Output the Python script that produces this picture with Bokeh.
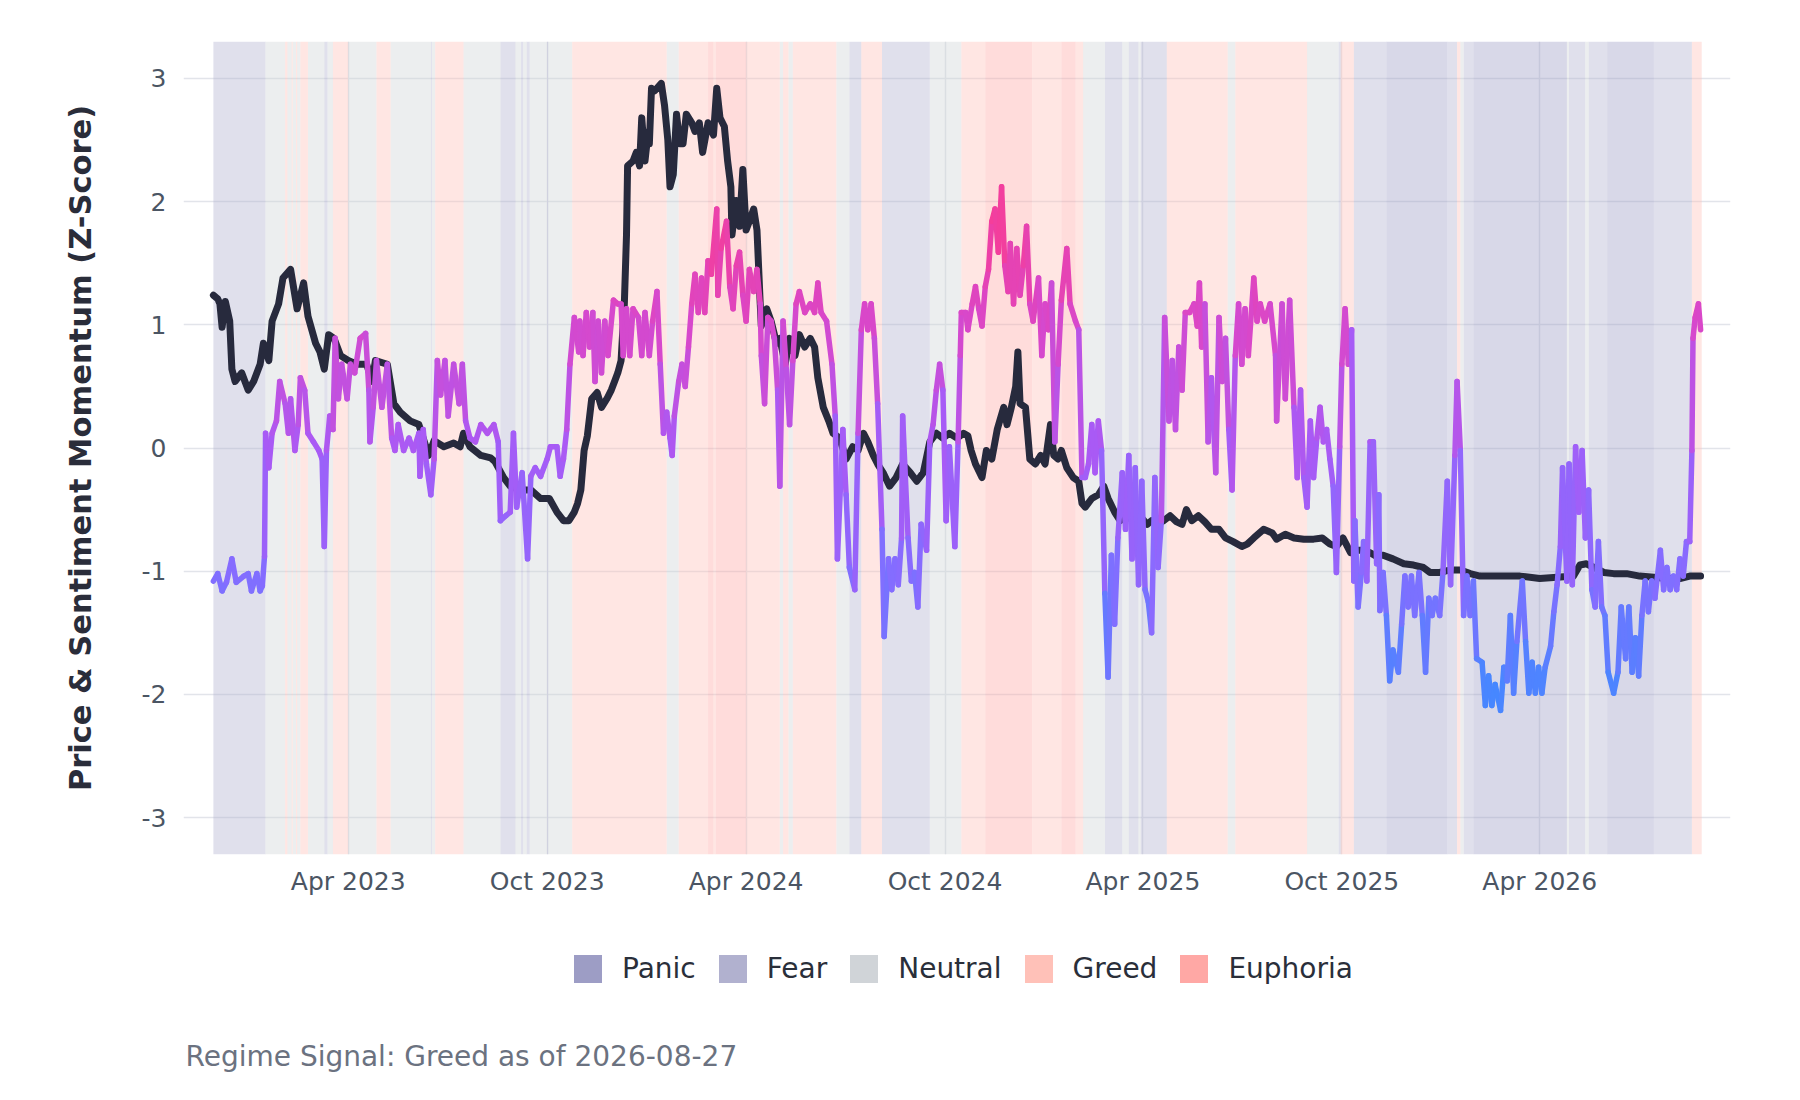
import numpy as np
import pandas as pd

from bokeh.plotting import figure
from bokeh.layouts import column
from bokeh.models import (ColumnDataSource, Range1d, FixedTicker, MonthsTicker, Label,
                          DatetimeTickFormatter, PrintfTickFormatter, Legend, LegendItem)
from bokeh.transform import linear_cmap
from bokeh.embed import file_html
from bokeh.resources import INLINE

START = pd.Timestamp("2022-11-28")   # first day of the series
LAST_DAY = 1368                      # 2026-08-27

# price momentum z-score: day offset from START, value
price_day = [0, 4, 6, 8, 11, 15, 17, 20, 26, 32, 37, 43, 46, 51, 54, 60, 64, 71, 77, 83,
             87, 94, 98, 102, 106, 111, 117, 124, 132, 141, 146, 149, 160, 166, 172, 181, 189, 198, 203, 212,
             221, 227, 230, 236, 246, 255, 259, 267, 273, 282, 292, 301, 309, 316, 322, 327, 332, 335, 338, 341,
             344, 348, 353, 357, 362, 366, 369, 372, 375, 378, 380, 381, 386, 389, 392, 394, 397, 400, 401, 403,
             406, 412, 415, 418, 420, 423, 426, 429, 432, 435, 440, 443, 447, 450, 455, 460, 463, 466, 470, 473,
             476, 477, 481, 484, 487, 490, 493, 497, 500, 503, 504, 509, 513, 518, 521, 526, 530, 535, 539, 544,
             549, 553, 556, 561, 566, 570, 576, 582, 588, 593, 598, 602, 607, 611, 616, 622, 628, 634, 641, 647,
             653, 659, 665, 671, 677, 684, 690, 694, 697, 701, 707, 711, 716, 721, 727, 730, 734, 738, 740, 742,
             747, 751, 756, 761, 765, 770, 773, 777, 780, 785, 791, 796, 799, 802, 808, 814, 819, 823, 829, 834,
             840, 846, 852, 859, 863, 868, 874, 880, 886, 891, 895, 900, 906, 912, 918, 925, 931, 938, 946, 951,
             957, 966, 974, 978, 986, 994, 1003, 1012, 1020, 1027, 1033, 1039, 1046, 1052, 1058, 1064, 1070, 1076, 1085, 1095,
             1104, 1113, 1119, 1128, 1138, 1147, 1156, 1165, 1184, 1202, 1220, 1236, 1251, 1257, 1263, 1270, 1279, 1288, 1300, 1312,
             1325, 1337, 1349, 1358, 1368]
price_z = [1.24, 1.21, 1.17, 0.98, 1.19, 1.03, 0.64, 0.54, 0.61, 0.47, 0.54, 0.68, 0.85, 0.71, 1.03, 1.17, 1.38, 1.45, 1.13, 1.34,
           1.07, 0.85, 0.78, 0.64, 0.92, 0.89, 0.75, 0.71, 0.68, 0.68, 0.54, 0.71, 0.68, 0.36, 0.29, 0.22, 0.19, -0.06, 0.06, 0.01,
           0.04, 0.01, 0.12, 0.01, -0.06, -0.08, -0.11, -0.24, -0.31, -0.34, -0.34, -0.41, -0.41, -0.52, -0.59, -0.59, -0.52, -0.45, -0.34, -0.02,
           0.10, 0.40, 0.45, 0.33, 0.40, 0.47, 0.54, 0.61, 0.71, 1.17, 1.73, 2.29, 2.33, 2.40, 2.29, 2.68, 2.33, 2.57, 2.47, 2.92,
           2.90, 2.96, 2.78, 2.50, 2.12, 2.22, 2.71, 2.47, 2.47, 2.71, 2.64, 2.57, 2.64, 2.40, 2.64, 2.54, 2.92, 2.68, 2.61, 2.33,
           2.12, 1.73, 2.01, 1.80, 2.26, 1.77, 1.84, 1.94, 1.77, 1.17, 0.99, 1.13, 1.03, 0.85, 0.89, 0.68, 0.89, 0.75, 0.92, 0.82,
           0.89, 0.82, 0.57, 0.33, 0.22, 0.12, 0.08, -0.09, 0.01, -0.02, 0.12, 0.05, -0.06, -0.13, -0.20, -0.31, -0.24, -0.13, -0.20, -0.27,
           -0.20, 0.05, 0.12, 0.08, 0.12, 0.08, 0.12, 0.10, -0.02, -0.13, -0.24, -0.02, -0.09, 0.15, 0.33, 0.19, 0.33, 0.50, 0.78, 0.36,
           0.33, -0.09, -0.13, -0.06, -0.13, 0.19, -0.06, -0.09, -0.02, -0.16, -0.24, -0.27, -0.45, -0.48, -0.41, -0.38, -0.31, -0.41, -0.52, -0.59,
           -0.55, -0.59, -0.55, -0.62, -0.59, -0.62, -0.59, -0.55, -0.60, -0.62, -0.50, -0.59, -0.55, -0.60, -0.66, -0.66, -0.73, -0.76, -0.80, -0.78,
           -0.73, -0.66, -0.69, -0.74, -0.70, -0.73, -0.74, -0.74, -0.73, -0.78, -0.80, -0.73, -0.85, -0.83, -0.83, -0.85, -0.88, -0.87, -0.90, -0.94,
           -0.95, -0.97, -1.01, -1.01, -0.99, -0.99, -1.02, -1.04, -1.04, -1.04, -1.06, -1.05, -1.04, -0.95, -0.94, -0.97, -1.01, -1.02, -1.02, -1.04,
           -1.05, -1.06, -1.06, -1.04, -1.04]

# sentiment momentum z-score: day offset from START, value
sent_day = [0, 4, 8, 12, 17, 21, 28, 32, 35, 40, 43, 45, 47, 48, 51, 54, 58, 61, 66, 69,
            71, 75, 78, 80, 84, 87, 92, 97, 100, 102, 104, 107, 110, 112, 115, 118, 123, 126, 130, 135,
            140, 143, 144, 147, 150, 155, 160, 164, 167, 170, 175, 180, 184, 189, 190, 193, 196, 200, 203, 206,
            209, 213, 216, 221, 226, 229, 232, 236, 241, 246, 252, 258, 262, 264, 269, 273, 276, 279, 284, 289,
            292, 296, 301, 307, 310, 316, 319, 322, 325, 328, 332, 336, 337, 340, 343, 346, 349, 351, 354, 357,
            360, 363, 368, 372, 375, 377, 380, 383, 386, 391, 394, 397, 401, 404, 408, 411, 414, 417, 420, 422,
            424, 428, 431, 434, 437, 440, 443, 446, 449, 452, 455, 458, 463, 464, 467, 472, 475, 478, 481, 484,
            487, 490, 493, 497, 500, 503, 504, 507, 510, 513, 516, 519, 521, 524, 527, 530, 533, 536, 539, 544,
            549, 553, 556, 559, 564, 569, 572, 574, 579, 582, 585, 590, 593, 596, 599, 602, 605, 608, 611, 615,
            617, 621, 624, 627, 630, 633, 634, 639, 642, 645, 648, 651, 656, 659, 662, 665, 668, 671, 674, 677,
            682, 685, 687, 688, 692, 694, 698, 701, 704, 707, 710, 713, 716, 719, 722, 725, 728, 731, 733, 736,
            739, 742, 745, 748, 751, 754, 759, 762, 765, 768, 771, 774, 777, 780, 785, 788, 793, 796, 799, 802,
            805, 808, 811, 814, 817, 820, 823, 826, 829, 832, 836, 839, 842, 845, 848, 851, 854, 857, 860, 863,
            866, 869, 872, 875, 879, 882, 885, 888, 891, 894, 898, 902, 905, 907, 909, 912, 915, 918, 922, 925,
            928, 931, 934, 937, 940, 943, 946, 949, 952, 957, 960, 963, 967, 972, 977, 978, 983, 986, 990, 994,
            997, 1000, 1003, 1006, 1009, 1012, 1015, 1018, 1021, 1024, 1027, 1030, 1033, 1036, 1038, 1041, 1044, 1047, 1049, 1050,
            1053, 1056, 1058, 1061, 1064, 1067, 1070, 1072, 1073, 1076, 1079, 1082, 1085, 1090, 1093, 1096, 1099, 1102, 1105, 1109,
            1112, 1115, 1118, 1121, 1124, 1128, 1131, 1135, 1138, 1142, 1144, 1147, 1150, 1153, 1156, 1159, 1162, 1167, 1170, 1173,
            1176, 1179, 1184, 1187, 1190, 1193, 1196, 1199, 1204, 1207, 1210, 1213, 1216, 1219, 1222, 1225, 1230, 1233, 1236, 1239,
            1241, 1245, 1247, 1250, 1253, 1256, 1259, 1262, 1265, 1268, 1271, 1274, 1277, 1280, 1283, 1288, 1292, 1295, 1299, 1302,
            1305, 1308, 1311, 1314, 1317, 1320, 1323, 1326, 1331, 1334, 1337, 1340, 1343, 1346, 1349, 1352, 1355, 1358, 1360, 1361,
            1363, 1366, 1368]
sent_z = [-1.08, -1.02, -1.16, -1.09, -0.90, -1.09, -1.04, -1.02, -1.16, -1.02, -1.16, -1.12, -0.88, 0.12, -0.16, 0.12, 0.22, 0.54, 0.36, 0.12,
          0.40, -0.02, 0.19, 0.57, 0.47, 0.12, 0.05, -0.02, -0.09, -0.80, -0.02, 0.26, 0.15, 0.89, 0.40, 0.68, 0.40, 0.68, 0.61, 0.89,
          0.93, 0.47, 0.05, 0.33, 0.71, 0.33, 0.68, 0.08, -0.02, 0.19, -0.02, 0.08, -0.02, 0.12, -0.23, 0.15, -0.13, -0.38, -0.09, 0.71,
          0.43, 0.71, 0.26, 0.68, 0.36, 0.68, 0.22, 0.08, 0.05, 0.19, 0.12, 0.19, 0.05, -0.59, -0.55, -0.52, 0.12, -0.48, -0.20, -0.90,
          -0.23, -0.16, -0.23, -0.09, 0.01, 0.01, -0.23, -0.09, 0.15, 0.68, 1.06, 0.78, 1.03, 0.75, 1.10, 0.82, 1.10, 0.54, 1.03, 0.61,
          1.03, 0.75, 1.20, 1.17, 1.17, 0.75, 1.13, 0.75, 1.13, 1.06, 0.75, 1.10, 0.75, 1.03, 1.27, 0.68, 0.12, 0.29, 0.08, -0.06,
          0.26, 0.54, 0.68, 0.50, 0.82, 1.17, 1.41, 1.10, 1.38, 1.10, 1.52, 1.41, 1.94, 1.24, 1.62, 1.84, 1.31, 1.13, 1.48, 1.59,
          1.24, 1.03, 1.45, 1.27, 1.45, 1.17, 0.75, 0.36, 1.06, 1.03, 0.89, 0.47, -0.31, 1.03, 0.64, 0.19, 0.71, 1.17, 1.27, 1.10,
          1.17, 1.10, 1.34, 1.10, 1.03, 0.68, 0.26, -0.90, 0.15, -0.38, -0.97, -1.15, 0.12, 0.96, 1.17, 0.96, 1.17, 0.89, 0.36, -0.66,
          -1.53, -0.90, -1.15, -0.90, -1.11, -0.73, 0.26, -0.73, -1.08, -1.01, -1.29, -0.62, -0.83, 0.05, 0.19, 0.47, 0.68, 0.47, -0.59, 0.01,
          -0.80, 0.05, 0.75, 1.10, 1.10, 0.96, 1.17, 1.31, 1.13, 0.99, 1.31, 1.45, 1.84, 1.94, 1.59, 2.12, 1.48, 1.27, 1.66, 1.17,
          1.62, 1.24, 1.48, 1.80, 1.17, 1.03, 1.38, 0.75, 1.17, 0.96, 1.34, 0.05, 0.68, 1.20, 1.62, 1.17, 1.03, 0.96, -0.24, -0.24,
          -0.13, 0.19, -0.20, 0.22, -0.02, -1.18, -1.86, -0.87, -1.43, -0.73, -0.20, -0.66, -0.06, -0.90, -0.16, -1.11, -0.27, -1.15, -1.25, -1.50,
          -0.24, -0.97, -0.59, 1.06, 0.22, 0.71, 0.15, 0.82, 0.47, 1.10, 1.10, 1.17, 0.99, 1.34, 0.82, 1.17, 0.05, 0.57, -0.20, 1.06,
          0.54, 0.89, 0.15, -0.34, 0.75, 1.17, 0.68, 1.13, 0.75, 1.38, 1.03, 1.17, 1.03, 1.17, 0.75, 0.22, 1.17, 0.40, 1.20, 0.33,
          -0.24, 0.47, -0.24, -0.48, 0.22, -0.24, 0.08, 0.33, 0.05, 0.15, -0.09, -0.31, -1.01, 0.01, 0.68, 1.13, 0.68, 0.96, -1.08, -0.59,
          -1.29, -1.01, -0.76, -1.08, 0.05, 0.05, -0.94, -0.38, -1.32, -1.01, -1.36, -1.89, -1.64, -1.82, -1.43, -1.04, -1.29, -1.04, -1.36, -1.01,
          -1.36, -1.82, -1.22, -1.36, -1.22, -1.36, -1.01, -0.27, -1.11, -0.06, 0.54, -0.02, -1.36, -1.04, -1.36, -1.08, -1.71, -1.74, -2.09, -1.85,
          -2.09, -1.92, -2.13, -1.78, -1.89, -1.36, -1.99, -1.57, -1.08, -1.57, -1.99, -1.74, -1.99, -1.78, -1.99, -1.78, -1.61, -1.33, -1.11, -0.80,
          -0.16, -1.08, -0.13, -1.11, 0.01, -0.52, -0.02, -0.73, -0.34, -1.15, -1.29, -0.76, -1.29, -1.36, -1.82, -1.99, -1.82, -1.29, -1.71, -1.29,
          -1.82, -1.54, -1.85, -1.36, -1.08, -1.33, -1.08, -1.22, -0.83, -1.15, -0.97, -1.15, -1.04, -1.15, -0.90, -1.04, -0.76, -0.76, -0.02, 0.89,
          1.06, 1.17, 0.96]

# regime bands: first day, day after last, regime
regime_start = [0, 48, 66, 68, 72, 73, 76, 77, 80, 87, 102, 105, 110, 124, 150, 163, 200, 201, 204, 230,
                264, 278, 283, 285, 288, 291, 307, 308, 330, 417, 428, 455, 460, 462, 490, 521, 524, 529, 533, 573,
                585, 596, 615, 659, 688, 710, 753, 780, 793, 800, 820, 836, 842, 851, 853, 877, 933, 940, 1006, 1035,
                1037, 1049, 1079, 1135, 1144, 1147, 1150, 1159, 1245, 1247, 1262, 1265, 1282, 1325, 1360]
regime_end = [48, 66, 68, 72, 73, 76, 77, 80, 87, 102, 105, 110, 124, 150, 163, 200, 201, 204, 230, 264,
              278, 283, 285, 288, 291, 307, 308, 330, 417, 428, 455, 460, 462, 490, 521, 524, 529, 533, 573, 585,
              596, 615, 659, 688, 710, 753, 780, 793, 800, 820, 836, 842, 851, 853, 877, 933, 940, 1006, 1035, 1037,
              1049, 1079, 1135, 1144, 1147, 1150, 1159, 1245, 1247, 1262, 1265, 1282, 1325, 1360, 1369]
regime_name = ["Fear", "Neutral", "Greed", "Neutral", "Greed", "Neutral", "Greed", "Neutral", "Greed", "Neutral",
               "Fear", "Neutral", "Greed", "Neutral", "Greed", "Neutral", "Fear", "Neutral", "Greed", "Neutral",
               "Fear", "Neutral", "Fear", "Neutral", "Fear", "Neutral", "Fear", "Neutral", "Greed", "Neutral",
               "Greed", "Euphoria", "Greed", "Euphoria", "Greed", "Neutral", "Greed", "Neutral", "Greed", "Neutral",
               "Fear", "Greed", "Fear", "Neutral", "Greed", "Euphoria", "Greed", "Euphoria", "Greed", "Neutral",
               "Fear", "Neutral", "Fear", "Neutral", "Fear", "Greed", "Neutral", "Greed", "Neutral", "Fear",
               "Greed", "Fear", "Panic", "Fear", "Greed", "Neutral", "Fear", "Panic", "Neutral", "Fear",
               "Neutral", "Fear", "Panic", "Fear", "Greed"]

REGIMES = ["Panic", "Fear", "Neutral", "Greed", "Euphoria"]
REGIME_COLORS = ["#9d9dc5", "#b1b1cf", "#d0d4d8", "#ffc1b8", "#ffa8a5"]

FONT = "DejaVu Sans"


def to_date(days):
    return START + pd.to_timedelta(np.asarray(days, dtype=float), unit="D")


# blue -> purple -> pink palette for the sentiment line
anchors = [(-2.2, (0x3b, 0x8c, 0xff)), (-1.0, (0x86, 0x6c, 0xff)), (0.0, (0xa9, 0x5a, 0xf5)),
           (1.0, (0xd7, 0x48, 0xcc)), (2.2, (0xff, 0x3a, 0x88))]
stops = np.linspace(-2.2, 2.2, 256)
av = [a[0] for a in anchors]
palette = []
for s in stops:
    rgb = [int(round(np.interp(s, av, [a[1][k] for a in anchors]))) for k in range(3)]
    palette.append("#%02x%02x%02x" % tuple(rgb))

p = figure(width=1784, height=914, x_axis_type="datetime",
           x_range=Range1d(to_date([-27.5])[0].to_pydatetime(), to_date([LAST_DAY + 27.5])[0].to_pydatetime()),
           y_range=Range1d(-3.3, 3.3),
           output_backend="svg", toolbar_location=None,
           min_border_left=183, min_border_right=54, min_border_top=41, min_border_bottom=60)
p.outline_line_color = None
p.background_fill_color = "white"

# regime bands
for name, color in zip(REGIMES, REGIME_COLORS):
    idx = [i for i, r in enumerate(regime_name) if r == name]
    src = ColumnDataSource(dict(left=to_date([regime_start[i] for i in idx]),
                                right=to_date([regime_end[i] for i in idx])))
    p.quad(left="left", right="right", bottom=-3.3, top=3.3, source=src,
           fill_color=color, fill_alpha=0.4, line_color=None)

# price momentum
p.line(to_date(price_day), price_z, line_color="#272a3d", line_width=7,
       line_join="round", line_cap="round")

# sentiment momentum, coloured by value
sd = to_date(sent_day)
sz = np.array(sent_z)
seg = ColumnDataSource(dict(x0=sd[:-1], x1=sd[1:], y0=sz[:-1], y1=sz[1:],
                            v=(sz[:-1] + sz[1:]) / 2))
p.segment(x0="x0", y0="y0", x1="x1", y1="y1", source=seg, line_width=5.5,
          line_cap="round", line_color=linear_cmap("v", palette, -2.2, 2.2))

# axes
p.xaxis.ticker = MonthsTicker(months=[3, 9])
p.xaxis.formatter = DatetimeTickFormatter(days="%b %Y", months="%b %Y", years="%b %Y")
p.yaxis.ticker = FixedTicker(ticks=[-3, -2, -1, 0, 1, 2, 3])
p.yaxis.formatter = PrintfTickFormatter(format="%d")
for ax in (p.xaxis, p.yaxis):
    ax.axis_line_color = None
    ax.major_tick_line_color = None
    ax.minor_tick_line_color = None
    ax.major_label_text_font = FONT
    ax.major_label_text_font_size = "25px"
    ax.major_label_text_color = "#4b5563"
p.xaxis.major_label_standoff = 6
p.yaxis.major_label_standoff = 11
p.yaxis.axis_label = "Price & Sentiment Momentum (Z-Score)"
p.yaxis.axis_label_text_font = FONT
p.yaxis.axis_label_text_font_style = "bold"
p.yaxis.axis_label_text_font_size = "30.5px"
p.yaxis.axis_label_text_color = "#2a2d3a"
p.yaxis.axis_label_standoff = 41

p.xgrid.grid_line_color = "#e2e4ea"
p.ygrid.grid_line_color = "#e2e4ea"
p.xgrid.grid_line_width = 1.5
p.ygrid.grid_line_width = 1.5

# strip underneath for the regime legend and the signal caption
# (its frame lines up with the chart's frame in the column layout)
foot = figure(width=1784, height=177, x_range=Range1d(0, 1), y_range=Range1d(0, 1),
              x_axis_location=None, y_axis_location=None, output_backend="svg",
              toolbar_location=None, min_border=0)
foot.outline_line_color = None
foot.grid.visible = False

items = []
for name, color in zip(REGIMES, REGIME_COLORS):
    # no drawable extent: the glyph only supplies the legend swatch
    r = foot.quad(left=[np.nan], right=[np.nan], bottom=[np.nan], top=[np.nan],
                  fill_color=color, line_color=None)
    items.append(LegendItem(label=name, renderers=[r]))
legend = Legend(items=items, orientation="horizontal", location=(387, 105),
                glyph_width=35, glyph_height=35, label_standoff=17, spacing=19,
                label_text_font=FONT, label_text_font_size="28px", label_text_color="#2a2f3a",
                border_line_color=None, background_fill_alpha=0, margin=0, padding=0)
foot.add_layout(legend, "center")

caption = Label(x=2, y=35, x_units="screen", y_units="screen",
                text="Regime Signal: Greed as of 2026-08-27", text_baseline="middle",
                text_font=FONT, text_font_size="28px", text_color="#6b7280")
foot.add_layout(caption)

layout = column(p, foot, spacing=0)

open("out.html", "w").write(file_html(layout, INLINE))
